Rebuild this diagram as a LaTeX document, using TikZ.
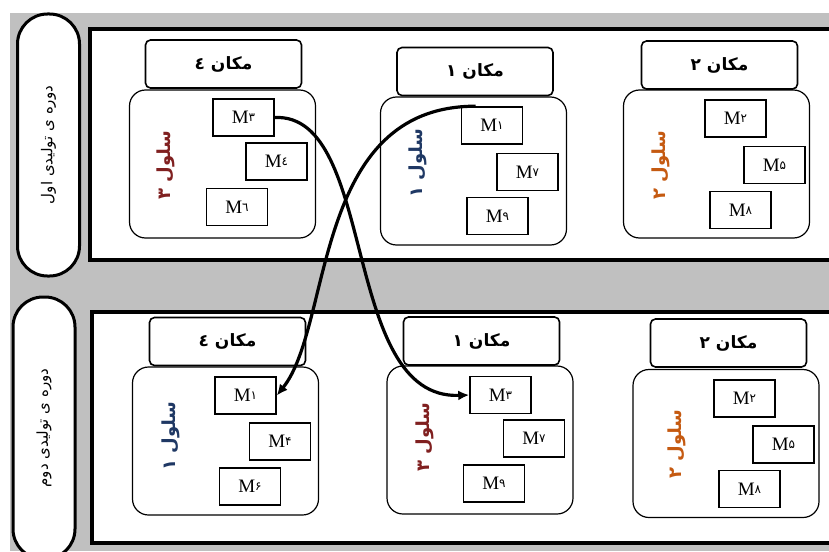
\documentclass[tikz,border=0pt]{standalone}
\usepackage{fontspec}
\setmainfont{Liberation Serif}
\newfontfamily\arabicfont[Script=Arabic]{DejaVu Sans}
\TeXXeTstate=1
\usetikzlibrary{arrows.meta}

\definecolor{bggray}{RGB}{192,192,192}
\definecolor{cellred}{RGB}{128,32,32}
\definecolor{cellblue}{RGB}{31,56,100}
\definecolor{cellorange}{RGB}{197,90,17}

\newcommand{\mlab}[1]{M\raisebox{2pt}{\arabicfont\fontsize{12}{12}\selectfont #1}}
\newcommand{\fatext}[1]{{\arabicfont\beginR #1\endR}}

\begin{document}
\begin{tikzpicture}[x=1pt,y=-1pt,
    header/.style={draw,line width=1.6pt,rounded corners=5pt,minimum width=156pt,minimum height=48pt,
      font=\arabicfont\bfseries\fontsize{17}{18}\selectfont},
    cellbox/.style={draw,line width=1.2pt,rounded corners=16pt,minimum width=186pt,minimum height=148pt},
    mbox/.style={draw,line width=1.6pt,minimum width=61pt,minimum height=37pt,
      font=\fontsize{19}{20}\selectfont},
    celllab/.style={rotate=90,font=\arabicfont\bfseries\fontsize{18}{20}\selectfont},
    period/.style={draw,fill=white,line width=3pt,rounded corners=30pt,rotate=90,
      minimum width=262pt,minimum height=62pt,font=\arabicfont\fontsize{15}{16}\selectfont},
    move/.style={line width=3.2pt,-{Latex[length=11pt,width=10pt]}}]
  \useasboundingbox (0,0) rectangle (829,551);
  \fill[bggray] (10,13) rectangle (829,551);

  % two production periods
  \draw[line width=3.6pt,fill=white] (90,29) rectangle (845,260);
  \draw[line width=3.6pt,fill=white] (92,312) rectangle (845,543);
  \node[period] (per1) at (48.5,145) {\beginR دوره ی تولیدی اول\endR};
  \node[period] (per2) at (44,428) {\beginR دوره ی تولیدی دوم\endR};

  % first period
  \node[header] (hdrA) at (223.5,64) {\fatext{مکان ٤}};
  \node[cellbox] (cellA) at (222.5,164) {};
  \node[celllab,cellred] (labA) at (166,165) {\beginR سلول ۳\endR};
  \begin{scope}[every node/.style={mbox}]
    \node (ma3) at (243.5,117.5) {\mlab{۳}};
    \node (ma4) at (276.5,161.5) {\mlab{٤}};
    \node (ma6) at (237,207) {\mlab{٦}};
  \end{scope}

  \node[header] (hdrB) at (475,71.5) {\fatext{مکان ۱}};
  \node[cellbox] (cellB) at (473.5,171) {};
  \node[celllab,cellblue] (labB) at (418,163) {\beginR سلول ۱\endR};
  \begin{scope}[every node/.style={mbox}]
    \node (mb1) at (492,125.5) {\mlab{۱}};
    \node (mb7) at (527.5,172) {\mlab{۷}};
    \node (mb9) at (497.5,216) {\mlab{۹}};
  \end{scope}

  \node[header] (hdrC) at (719.5,65) {\fatext{مکان ۲}};
  \node[cellbox] (cellC) at (716.5,164) {};
  \node[celllab,cellorange] (labC) at (661,165) {\beginR سلول ۲\endR};
  \begin{scope}[every node/.style={mbox}]
    \node (mc2) at (735.5,118.5) {\mlab{۲}};
    \node (mc5) at (774.5,165) {\mlab{۵}};
    \node (mc8) at (740.5,210) {\mlab{۸}};
  \end{scope}

  % second period
  \node[header] (hdrD) at (227.5,341.5) {\fatext{مکان ٤}};
  \node[cellbox] (cellD) at (225.5,441) {};
  \node[celllab,cellblue] (labD) at (171,436) {\beginR سلول ۱\endR};
  \begin{scope}[every node/.style={mbox}]
    \node (md1) at (245.5,395.5) {\mlab{۱}};
    \node (md4) at (280,441.5) {\mlab{۴}};
    \node (md6) at (250,486.5) {\mlab{۶}};
  \end{scope}

  \node[header] (hdrE) at (481.5,341) {\fatext{مکان ۱}};
  \node[cellbox] (cellE) at (480,440) {};
  \node[celllab,cellred] (labE) at (425,437) {\beginR سلول ۳\endR};
  \begin{scope}[every node/.style={mbox}]
    \node (me3) at (500.5,395) {\mlab{۳}};
    \node (me7) at (534,438.5) {\mlab{۷}};
    \node (me9) at (494,483.5) {\mlab{۹}};
  \end{scope}

  \node[header] (hdrF) at (728.5,343) {\fatext{مکان ۲}};
  \node[cellbox] (cellF) at (726,443.5) {};
  \node[celllab,cellorange] (labF) at (677,444) {\beginR سلول ۲\endR};
  \begin{scope}[every node/.style={mbox}]
    \node (mf2) at (744.5,398.5) {\mlab{۲}};
    \node (mf5) at (783.5,444.5) {\mlab{۵}};
    \node (mf8) at (749.5,489) {\mlab{۸}};
  \end{scope}

  % machines moved between the periods
  \draw[move] (ma3.east) .. controls (378,113) and (340,400) .. (me3.west);
  \draw[move] (mb1.north west) ++(15,0) .. controls (312,106) and (333,325) .. (md1.east);
\end{tikzpicture}
\end{document}
